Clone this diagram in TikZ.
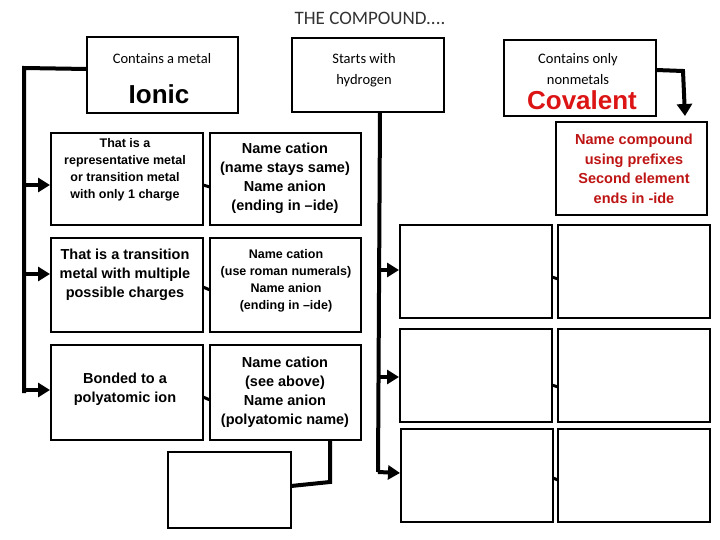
\documentclass[tikz,border=0pt]{standalone}
\usepackage{fontspec}
\setmainfont{Liberation Sans}
\newfontfamily\carl{Carlito}
\usetikzlibrary{arrows.meta}
\definecolor{cred}{RGB}{220,20,20}
\definecolor{dred}{RGB}{190,20,20}
\begin{document}
\begin{tikzpicture}[x=1pt,y=-1pt,
  bx/.style={draw=black,line width=2.2pt,fill=white},
  conn/.style={line width=4pt},
  arr/.style={line width=4pt,-{Triangle[length=12pt,width=14pt]}},
  thin/.style={line width=3pt},
  txt/.style={align=center,font=\bfseries\fontsize{14}{19}\selectfont}]
\useasboundingbox (0,0) rectangle (720,540);
\node[font=\carl\fontsize{19}{22}\selectfont,text=black!80] (title) at (370,18) {THE COMPOUND....};
% top boxes
\draw[bx] (87,37) rectangle (238,113);
\node[font=\carl\fontsize{14.5}{17}\selectfont] (cm) at (162,59) {Contains a metal};
\node[font=\bfseries\fontsize{26}{30}\selectfont] (ionic) at (159,94) {Ionic};
\coordinate (ionL) at (87,69);
\draw[bx] (292,38) rectangle (444,112);
\node[font=\carl\fontsize{14.5}{21}\selectfont,align=center] (hyd) at (364,70) {Starts with\\hydrogen};
\coordinate (hydB) at (380,112);
\draw[bx] (504,40) rectangle (656,116);
\node[font=\carl\fontsize{14.5}{21}\selectfont,align=center] (cov) at (578,69) {Contains only\\nonmetals};
\node[font=\bfseries\fontsize{26}{30}\selectfont,text=cred] (covt) at (582,100) {Covalent};
\coordinate (covR) at (656,70);
% covalent naming
\draw[bx] (556,122) rectangle (707,215);
\node[txt,text=dred,font=\bfseries\fontsize{14.5}{19.5}\selectfont] (cn) at (634,169) {Name compound\\using prefixes\\Second element\\ends in -ide};
\coordinate (cnT) at (685,116);
% left column
\draw[bx] (51,133) rectangle (203,225);
\node[txt,font=\bfseries\fontsize{12.5}{17}\selectfont] (a1) at (125,170) {That is a\\representative metal\\or transition metal\\with only 1 charge};
\draw[bx] (210,133) rectangle (361,225);
\node[txt,font=\bfseries\fontsize{14.5}{19}\selectfont] (b1) at (285,178) {Name cation\\(name stays same)\\Name anion\\(ending in --ide)};
\draw[bx] (51,238) rectangle (203,332);
\node[txt,font=\bfseries\fontsize{14.5}{19}\selectfont] (a2) at (125,275) {That is a transition\\metal with multiple\\possible charges};
\draw[bx] (210,238) rectangle (361,332);
\node[txt,font=\bfseries\fontsize{12.5}{17}\selectfont] (b2) at (286,281) {Name cation\\(use roman numerals)\\Name anion\\(ending in --ide)};
\draw[bx] (51,345) rectangle (203,440);
\node[txt,font=\bfseries\fontsize{14.5}{19}\selectfont] (a3) at (125,389) {Bonded to a\\polyatomic ion};
\draw[bx] (210,345) rectangle (361,440);
\node[txt,font=\bfseries\fontsize{14.5}{19}\selectfont] (b3) at (285,392) {Name cation\\(see above)\\Name anion\\(polyatomic name)};
\draw[bx] (168,452) rectangle (291,528);
% right grid
\draw[bx] (400,225) rectangle (552,318);
\draw[bx] (558,225) rectangle (710,318);
\draw[bx] (400,329) rectangle (552,422);
\draw[bx] (558,329) rectangle (710,422);
\draw[bx] (401,429) rectangle (553,522);
\draw[bx] (558,429) rectangle (710,522);
% left connectors
\coordinate (lt) at (24,68);
\coordinate (lb) at (24,393);
\draw[conn] (ionL) -- (lt) -- (lb);
\draw[arr] (24,185) -- (50,185);
\draw[arr] (24,274) -- (50,274);
\draw[arr] (24,390) -- (50,390);
\draw[thin] (203,185) -- (210,187);
\draw[thin] (203,287) -- (210,290);
\draw[thin] (203,397) -- (210,400);
\draw[conn] (330,440) -- (330,482) -- (291,486);
% hydrogen connectors
\draw[conn] (hydB) -- (378,472);
\draw[arr] (380,270) -- (399,270);
\draw[arr] (380,377) -- (399,377);
\draw[arr] (378,472) -- (400,473);
\draw[thin] (552,277) -- (558,279);
\draw[thin] (552,385) -- (558,387);
\draw[thin] (553,478) -- (558,480);
% covalent connector
\draw[line width=4pt,-{Triangle[length=12pt,width=15pt]}] (covR) -- (683,71) -- (cnT);
\end{tikzpicture}
\end{document}
